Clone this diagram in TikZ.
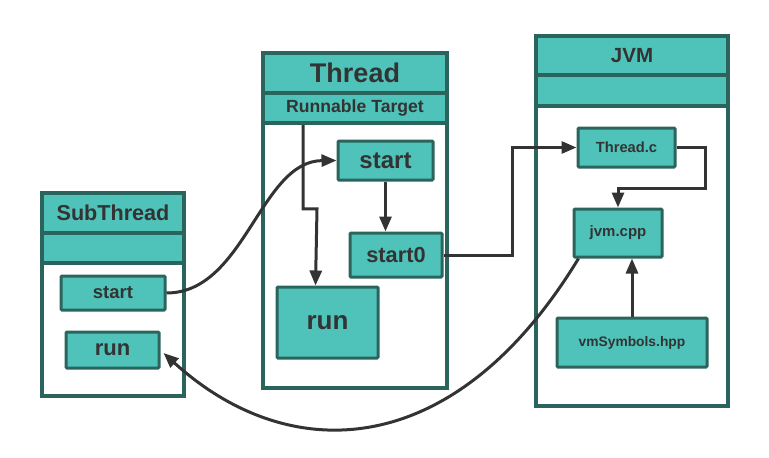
\documentclass[tikz,border=0pt]{standalone}
\usepackage{fontspec}
\setmainfont{Liberation Sans}
\usetikzlibrary{arrows.meta,calc}
\definecolor{tealf}{HTML}{4FC3B9}
\definecolor{bord}{HTML}{2B645D}
\definecolor{ink}{HTML}{333333}
\newcommand{\fs}[1]{\fontsize{#1}{#1}\selectfont}
\tikzset{
  frame/.style={draw=bord, line width=3.5pt, fill=white, inner sep=0pt},
  hdr/.style={draw=bord, line width=3.5pt, fill=tealf, inner sep=0pt, text=ink, font=\bfseries},
  comp/.style={draw=bord, line width=3pt, fill=tealf, inner sep=0pt, text=ink, font=\bfseries, rounded corners=1pt},
  arr/.style={draw=ink, line width=3pt, -{Triangle[length=15pt,width=12pt]}},
}
\begin{document}
\begin{tikzpicture}[x=1pt,y=-1pt]
\useasboundingbox (0,0) rectangle (769,458);
% SubThread
\node[frame, minimum width=142, minimum height=203] (subf) at (113,294.5) {};
\node[hdr, minimum width=142, minimum height=40] (subh) at (113,213) {\fs{21.6}SubThread};
\node[hdr, minimum width=142, minimum height=30] (subb) at (113,248) {};
\node[comp, minimum width=104, minimum height=34] (sstart) at (113,293) {\fs{18.5}start};
\node[comp, minimum width=93, minimum height=36] (srun) at (112.5,350) {\fs{22}run};
% Thread
\node[frame, minimum width=184, minimum height=335] (thf) at (355,220.5) {};
\node[hdr, minimum width=184, minimum height=40] (thh) at (355,73) {\fs{27}Thread};
\node[hdr, minimum width=184, minimum height=30] (thb) at (355,108) {\fs{17.6}Runnable Target};
\node[comp, minimum width=95, minimum height=39] (tstart) at (385.5,160.5) {\fs{24}start};
\node[comp, minimum width=92, minimum height=44] (tstart0) at (396,255) {\fs{21.8}start0};
\node[comp, minimum width=101, minimum height=71] (trun) at (327.5,322.5) {\fs{26}run};
% JVM
\node[frame, minimum width=192, minimum height=370] (jvf) at (632,221) {};
\node[hdr, minimum width=192, minimum height=39] (jvh) at (632,55.5) {\fs{20.5}JVM};
\node[hdr, minimum width=192, minimum height=31] (jvb) at (632,90.5) {};
\node[comp, minimum width=97, minimum height=39] (threadc) at (626.5,147.5) {\fs{14.7}Thread.c};
\node[comp, minimum width=88, minimum height=48] (jvmcpp) at (618,233) {\fs{15}jvm.cpp};
\node[comp, minimum width=150, minimum height=49] (vmsym) at (632,342.5) {\fs{13.8}vmSymbols.hpp};
% connectors
\coordinate (rt) at ($(thb.south)+(-52,0)$);
\draw[arr] (rt) -- ($(rt)+(0,84)$) -- ($(rt)+(14,84)$) -- ($(trun.north west)+(40,0)$);
\draw[arr] (tstart.south) -- (tstart.south |- tstart0.north);
\draw[arr] (sstart.east) .. controls (245,293) and (260,161) .. (tstart.west);
\coordinate (j1) at ($(tstart0.east)+(69,0)$);
\draw[arr] (tstart0.east) -- (j1) |- (threadc.west);
\coordinate (j2) at ($(threadc.east)+(29,41)$);
\draw[arr] (threadc.east) -| (j2) -| (jvmcpp.north);
\draw[arr] (vmsym.north) -- (vmsym.north |- jvmcpp.south);
\draw[arr] ($(jvmcpp.south west)+(6,0)$) .. controls (455,462) and (290,468) .. ($(srun.east)+(3,3)$);
\end{tikzpicture}
\end{document}
